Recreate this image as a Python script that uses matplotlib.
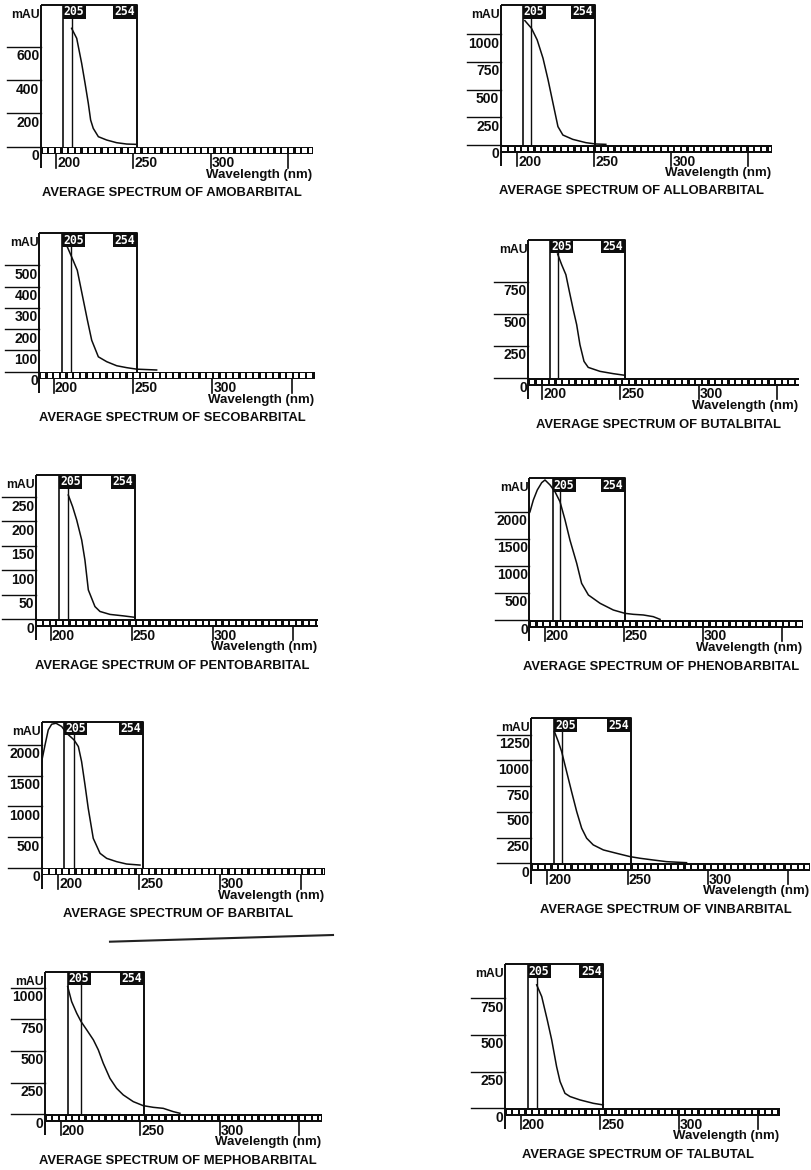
import matplotlib
matplotlib.use('Agg')
import matplotlib.pyplot as plt
from matplotlib.patches import Rectangle
from matplotlib.lines import Line2D

W, H = 811, 1170
FONT = ['Liberation Sans', 'DejaVu Sans']
MONO = ['DejaVu Sans Mono', 'DejaVu Sans']

# ---------------- data ----------------
drug_names = ['AMOBARBITAL', 'ALLOBARBITAL', 'SECOBARBITAL', 'BUTALBITAL',
              'PENTOBARBITAL', 'PHENOBARBITAL', 'BARBITAL', 'VINBARBITAL',
              'MEPHOBARBITAL', 'TALBUTAL']
signal_labels = ['205', '254']
x_ticks = [200, 250, 300, 350]
x_tick_labels = ['200', '250', '300', '']

amo_nm = [210.1, 213.4, 216.6, 218.8, 220.9, 222.4, 224.1, 227.4, 232.8, 239.2, 245.7, 252.2]
amo_mau = [710, 650, 500, 380, 260, 160, 110, 60, 40, 24, 16, 14]
amo_ticks = [0, 200, 400, 600]
amo_ymax = 850

allo_nm = [204.9, 209.2, 212.9, 216.7, 220.0, 223.2, 226.4, 229.6, 236.0, 244.6, 251.0, 257.5]
allo_mau = [1123, 1054, 949, 783, 587, 376, 166, 90, 51, 21, 9, 6]
allo_ticks = [0, 250, 500, 750, 1000]
allo_ymax = 1264

seco_nm = [208.0, 211.2, 214.7, 218.1, 221.1, 223.8, 228.0, 233.3, 239.6, 245.9, 252.2, 264.8]
seco_mau = [594, 539, 477, 352, 242, 148, 70, 47, 28, 19, 12, 8]
seco_ticks = [0, 100, 200, 300, 400, 500]
seco_ymax = 651

buta_nm = [209.8, 212.4, 215.1, 217.3, 219.8, 222.0, 224.1, 226.7, 229.4, 236.9, 245.4, 252.9]
buta_mau = [969, 885, 807, 677, 534, 417, 260, 130, 83, 52, 34, 21]
buta_ticks = [0, 250, 500, 750]
buta_ymax = 1078

pento_nm = [210.7, 213.4, 215.9, 219.0, 221.0, 223.1, 227.2, 230.3, 236.5, 244.8, 252.0]
pento_mau = [254, 230, 203, 162, 121, 60, 26, 16, 10, 7, 4]
pento_ticks = [0, 50, 100, 150, 200, 250]
pento_ymax = 295

pheno_nm = [190.5, 192.6, 195.1, 197.9, 200.0, 203.2, 206.3, 209.5, 212.7, 215.8, 220.1,
            223.2, 227.5, 234.9, 243.3, 250.7, 256.0, 262.3, 268.6, 272.9]
pheno_mau = [2006, 2222, 2407, 2543, 2593, 2500, 2377, 2191, 1852, 1481, 1049,
             679, 463, 309, 185, 123, 105, 93, 62, 12]
pheno_ticks = [0, 500, 1000, 1500, 2000]
pheno_ymax = 2624

barb_nm = [189.7, 191.8, 193.8, 195.9, 198.6, 202.1, 205.2, 209.7, 212.4, 214.4, 216.5,
           218.5, 221.6, 225.8, 229.9, 236.1, 242.2, 250.5]
barb_mau = [1728, 2000, 2245, 2337, 2353, 2299, 2190, 2082, 1973, 1728, 1348,
            967, 478, 234, 152, 98, 60, 43]
barb_ticks = [0, 500, 1000, 1500, 2000]
barb_ymax = 2378

vinb_nm = [204.4, 206.8, 208.9, 212.0, 215.1, 218.3, 221.4, 224.5, 228.6, 234.9, 243.2,
           251.5, 257.7, 266.0, 274.3, 286.7]
vinb_mau = [1282, 1185, 1088, 893, 698, 503, 341, 244, 179, 130, 97, 65, 49, 32, 16, 6]
vinb_ticks = [0, 250, 500, 750, 1000, 1250]
vinb_ymax = 1410

meph_nm = [204.2, 206.7, 209.9, 212.6, 216.2, 220.4, 223.5, 226.6, 230.8, 235.0, 239.2,
           245.5, 251.8, 258.1, 264.4, 270.7, 274.9]
meph_mau = [1008, 889, 797, 732, 666, 587, 508, 403, 284, 205, 153, 100, 68, 55, 47, 21, 8]
meph_ticks = [0, 250, 500, 750, 1000]
meph_ymax = 1125

talb_nm = [209.9, 213.1, 216.6, 219.4, 222.5, 224.7, 227.8, 231.0, 237.3, 245.7, 252.0]
talb_mau = [841, 761, 602, 466, 284, 182, 102, 80, 57, 34, 23]
talb_ticks = [0, 250, 500, 750]
talb_ymax = 981

# cursor line wavelengths and window end (nm)
cursor_a = [204.3, 203.4, 204.9, 204.9, 205.0, 204.8, 203.7, 204.4, 204.2, 204.2]
cursor_b = [210.2, 208.8, 210.7, 210.2, 210.7, 209.7, 209.7, 209.0, 212.7, 210.3]
window_end = [252.2, 250.4, 252.2, 252.9, 251.7, 250.6, 252.2, 252.1, 252.1, 252.0]

spectra_nm = [amo_nm, allo_nm, seco_nm, buta_nm, pento_nm, pheno_nm, barb_nm, vinb_nm, meph_nm, talb_nm]
spectra_mau = [amo_mau, allo_mau, seco_mau, buta_mau, pento_mau, pheno_mau, barb_mau, vinb_mau, meph_mau, talb_mau]
y_ticks = [amo_ticks, allo_ticks, seco_ticks, buta_ticks, pento_ticks, pheno_ticks, barb_ticks, vinb_ticks, meph_ticks, talb_ticks]
y_max = [amo_ymax, allo_ymax, seco_ymax, buta_ymax, pento_ymax, pheno_ymax, barb_ymax, vinb_ymax, meph_ymax, talb_ymax]

# ---------------- layout (pixels): spine, x@200, px per 50nm, strip end, top, baseline
geometry = [
    (41.0, 56.0, 77.3, 312.7, 5.0, 146.7),
    (500.7, 517.3, 77.0, 771.7, 5.0, 145.0),
    (39.3, 54.0, 79.2, 315.0, 233.3, 371.7),
    (528.3, 542.3, 78.1, 799.3, 240.0, 378.0),
    (35.7, 51.0, 80.8, 318.3, 475.0, 619.3),
    (529.3, 545.0, 78.9, 803.3, 478.3, 620.0),
    (41.7, 58.3, 80.9, 325.0, 721.7, 867.7),
    (531.0, 547.3, 80.3, 810.0, 718.3, 863.3),
    (45.0, 61.0, 79.4, 321.7, 971.7, 1114.3),
    (505.0, 521.0, 79.1, 780.0, 964.3, 1108.3),
]

fig = plt.figure(figsize=(W / 100, H / 100), dpi=100)
fig.patch.set_facecolor('white')

K = '#0d0d0d'

for i, (spine, x200, s, end, top, base) in enumerate(geometry):
    ymax = y_max[i]
    px = s / 50.0
    py = (base - top) / ymax
    dx = lambda p: p / px
    dy = lambda p: p / py
    x0 = 200 + (spine - x200) / px
    x1 = 200 + (end - x200) / px

    ax = fig.add_axes([spine / W, 1 - base / H, (end - spine) / W, (base - top) / H])
    ax.set_xlim(x0, x1)
    ax.set_ylim(0, ymax)
    ax.axis('off')

    we = window_end[i]
    # spectrum window box
    ax.plot([x0, x0], [ymax, -dy(21)], color=K, lw=1.4, clip_on=False, solid_capstyle='butt')
    ax.plot([x0, we, we], [ymax, ymax, 0], color=K, lw=1.4, clip_on=False, solid_capstyle='butt')
    ax.vlines([cursor_a[i]], 0, ymax, color=K, lw=1.2)
    ax.vlines([cursor_b[i]], 0, ymax, color=K, lw=1.0)

    # spectrum curve
    ax.plot(spectra_nm[i], spectra_mau[i], color=K, lw=1.1, zorder=3)

    # signal label boxes
    bw, bh = dx(23), dy(13.5)
    ax.add_patch(Rectangle((cursor_a[i], ymax - bh), bw, bh, fc=K, ec='none', zorder=5, clip_on=False))
    ax.text(cursor_a[i] + bw / 2, ymax - bh / 2, signal_labels[0], color='white', ha='center',
            va='center', fontsize=8.3, family=MONO, fontweight='bold', zorder=6)
    bw2 = dx(24)
    ax.add_patch(Rectangle((we - bw2, ymax - bh), bw2, bh, fc=K, ec='none', zorder=5, clip_on=False))
    ax.text(we - bw2 / 2, ymax - bh / 2, signal_labels[1], color='white', ha='center',
            va='center', fontsize=8.3, family=MONO, fontweight='bold', zorder=6)

    # film strip axis
    ax.add_patch(Rectangle((x0, -dy(7.5)), x1 - x0, dy(7.5), fc=K, ec='none', clip_on=False, zorder=4))
    pitch = dx(6.65)
    n = int((x1 - x0 - dx(2)) / pitch)
    for k in range(n + 1):
        xs = x0 + dx(1.8) + k * pitch
        wdt = min(dx(4.4), x1 - xs - dx(0.6))
        if wdt <= 0:
            continue
        ax.add_patch(Rectangle((xs, -dy(6.0)), wdt, dy(4.5), fc='white', ec='none',
                               clip_on=False, zorder=4.5))

    # y ticks and labels (labels sit below their tick line)
    for t in y_ticks[i]:
        ax.plot([x0 - dx(34), x0], [t, t], color=K, lw=1.0, clip_on=False)
        ax.text(x0 - dx(1.5), t - dy(9.5), f'{t}', ha='right', va='center', fontsize=10,
                family=FONT, fontweight='bold', color=K)
    ax.text(x0 - dx(1), ymax - dy(10), 'mAU', ha='right', va='center', fontsize=8.8,
            family=FONT, fontweight='bold', color=K)

    # x ticks
    for t, lab in zip(x_ticks, x_tick_labels):
        ax.plot([t, t], [-dy(7), -dy(21)], color=K, lw=1.2, clip_on=False)
        if lab:
            ax.text(t + dx(1), -dy(16.5), lab, ha='left', va='center', fontsize=10,
                    family=FONT, fontweight='bold', color=K)

    ax.text(x1 - dx(1), -dy(28), 'Wavelength (nm)', ha='right', va='center', fontsize=9.5,
            family=FONT, fontweight='bold', color=K)
    ax.text((x0 + x1) / 2 - dx(5), -dy(46.5), 'AVERAGE SPECTRUM OF ' + drug_names[i],
            ha='center', va='center', fontsize=9.4, family=FONT, fontweight='bold', color=K)

# scan artifact rule line
fig.add_artist(Line2D([110 / W, 333 / W], [1 - 941.7 / H, 1 - 935 / H], color='#222222', lw=1.5))

fig.savefig('out.png', dpi=100, facecolor='white')
